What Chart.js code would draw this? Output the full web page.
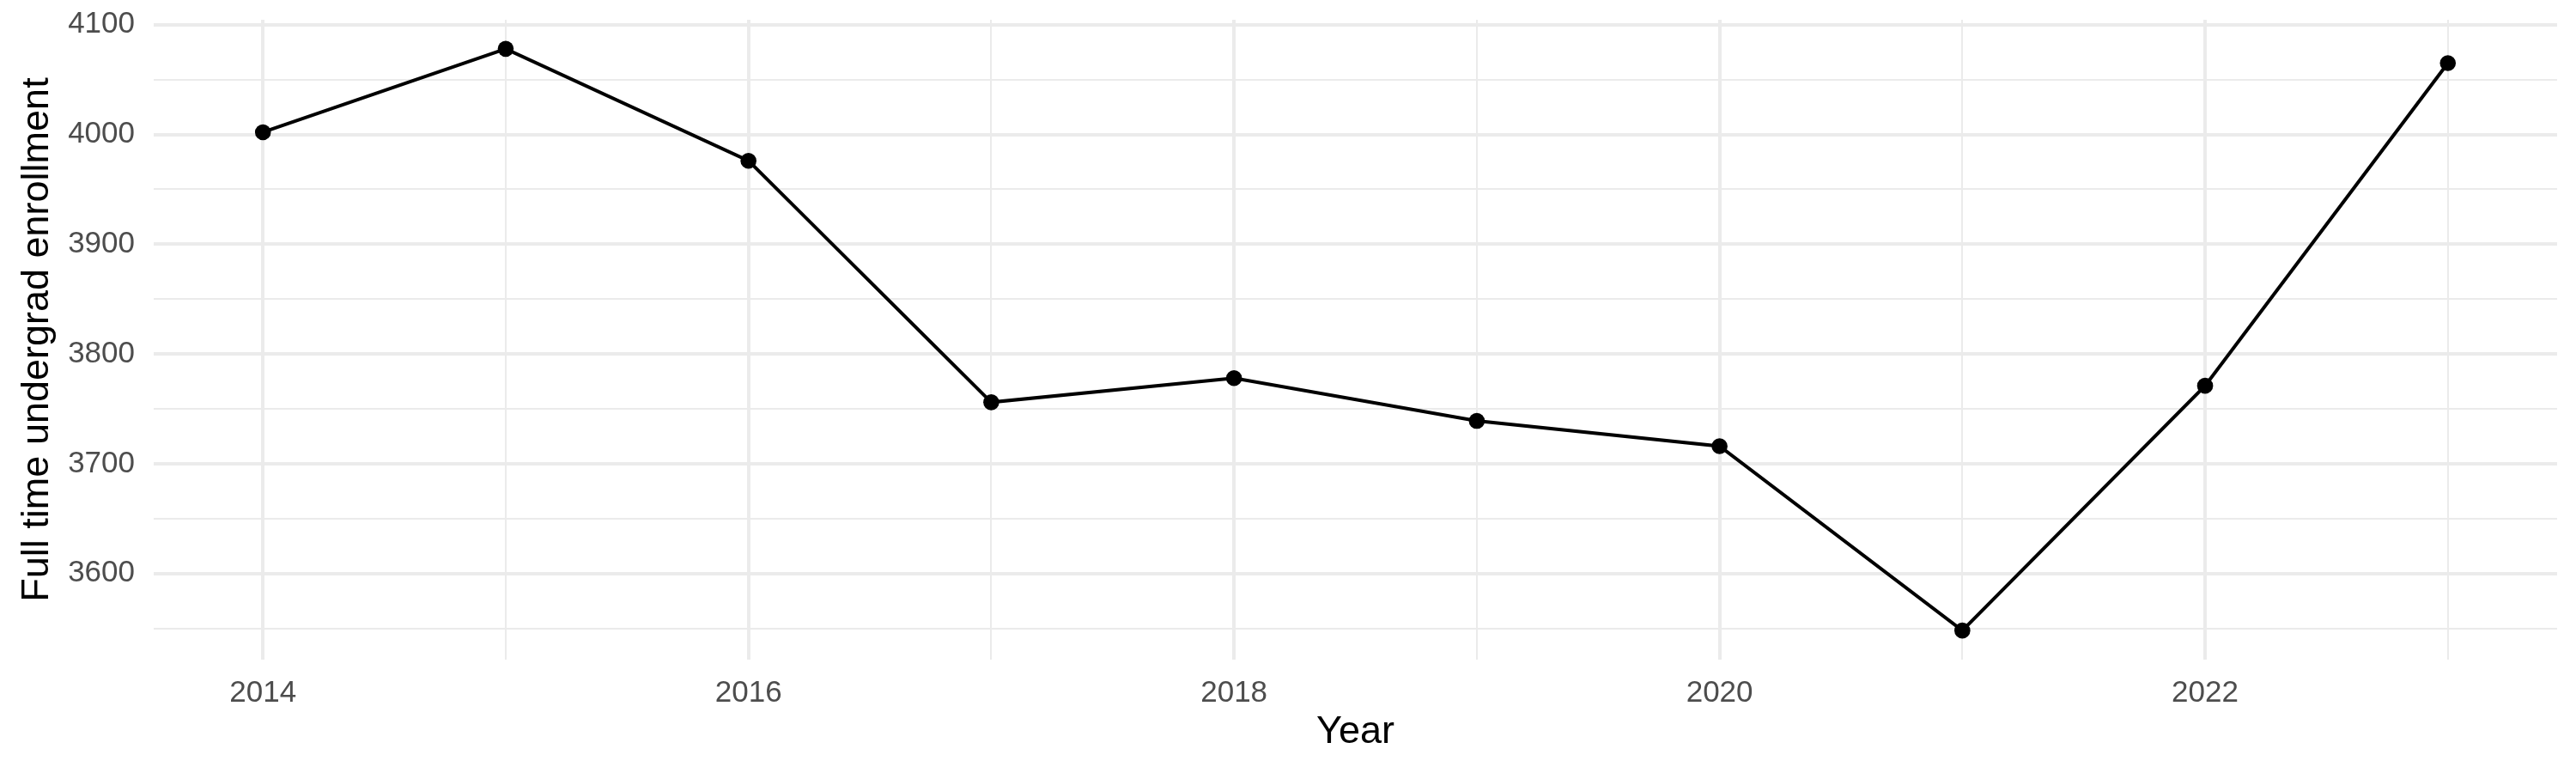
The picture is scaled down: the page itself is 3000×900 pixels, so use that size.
<!DOCTYPE html>
<html>
<head>
<meta charset="utf-8">
<script src="https://cdn.jsdelivr.net/npm/chart.js@4/dist/chart.umd.min.js"></script>
<style>
  html, body { margin: 0; padding: 0; background: #fff; }
  #enrollChart { display: block; }
</style>
</head>
<body>
<canvas id="enrollChart" width="3000" height="900" style="width:3000px;height:900px"></canvas>
<script>
// data
var years = [2014, 2015, 2016, 2017, 2018, 2019, 2020, 2021, 2022, 2023];
var enrollment = [4002, 4078, 3976, 3756, 3778, 3739, 3716, 3548, 3771, 4065];
var xTickLabels = [2014, 2016, 2018, 2020, 2022];
var yTickLabels = [3600, 3700, 3800, 3900, 4000, 4100];

document.addEventListener('DOMContentLoaded', function () {
  var canvas = document.getElementById('enrollChart');

  var points = years.map(function (yr, i) {
    return { x: yr, y: enrollment[i] };
  });

  // ggplot style 5% expansion around the data range
  var xPad = (years[years.length - 1] - years[0]) * 0.05;
  var yMin = Math.min.apply(null, enrollment);
  var yMax = Math.max.apply(null, enrollment);
  var yPad = (yMax - yMin) * 0.05;

  var fontFamily = '"Liberation Sans", Arial, Helvetica, sans-serif';

  new Chart(canvas, {
    type: 'line',
    data: {
      datasets: [{
        label: 'Full time undergrad enrollment',
        data: points,
        borderColor: '#000000',
        backgroundColor: '#000000',
        borderWidth: 4,
        pointRadius: 9.3,
        pointBorderWidth: 0,
        pointBackgroundColor: '#000000',
        fill: false,
        tension: 0
      }]
    },
    options: {
      responsive: false,
      animation: false,
      devicePixelRatio: 1,
      layout: {
        padding: { top: 23, right: 22, left: 0, bottom: 0 }
      },
      plugins: {
        legend: { display: false },
        tooltip: { enabled: false }
      },
      scales: {
        x: {
          type: 'linear',
          min: years[0] - xPad,
          max: years[years.length - 1] + xPad,
          border: { display: false },
          grid: {
            color: '#EBEBEB',
            drawTicks: false,
            lineWidth: function (ctx) {
              return ctx.tick && xTickLabels.indexOf(ctx.tick.value) !== -1 ? 4 : 2;
            }
          },
          ticks: {
            stepSize: 1,
            includeBounds: false,
            autoSkip: false,
            maxRotation: 0,
            padding: 18,
            color: '#4D4D4D',
            font: { family: fontFamily, size: 35 },
            callback: function (value) {
              return xTickLabels.indexOf(value) !== -1 ? String(value) : '';
            }
          },
          title: {
            display: true,
            text: 'Year',
            color: '#000000',
            font: { family: fontFamily, size: 45 },
            padding: { top: 2, bottom: 20 }
          },
          afterFit: function (scale) {
            scale.height = 132;
            scale.paddingLeft = 0;
            scale.paddingRight = 0;
          }
        },
        y: {
          type: 'linear',
          min: yMin - yPad,
          max: yMax + yPad,
          border: { display: false },
          grid: {
            color: '#EBEBEB',
            drawTicks: false,
            lineWidth: function (ctx) {
              return ctx.tick && yTickLabels.indexOf(ctx.tick.value) !== -1 ? 4 : 2;
            }
          },
          ticks: {
            stepSize: 50,
            includeBounds: false,
            autoSkip: false,
            padding: 22,
            color: '#4D4D4D',
            font: { family: fontFamily, size: 35 },
            callback: function (value) {
              return yTickLabels.indexOf(value) !== -1 ? String(value) : '';
            }
          },
          title: {
            display: true,
            text: 'Full time undergrad enrollment',
            color: '#000000',
            font: { family: fontFamily, size: 45 },
            padding: { top: 17, bottom: 0 }
          },
          afterFit: function (scale) {
            scale.width = 179;
            scale.paddingTop = 0;
            scale.paddingBottom = 0;
          }
        }
      }
    }
  });
});
</script>
</body>
</html>
